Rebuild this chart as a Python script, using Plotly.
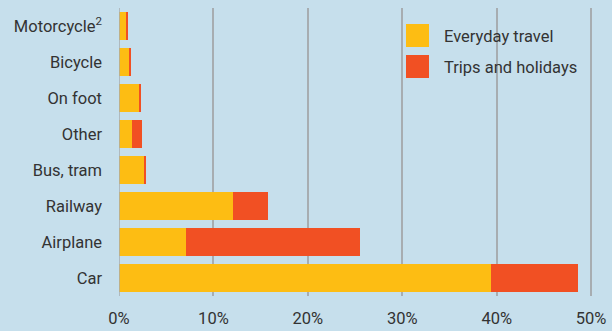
import plotly.graph_objects as go

# Share of travel distance by mode, split into everyday travel and trips/holidays (%)
modes = ["Motorcycle<sup>2</sup>", "Bicycle", "On foot", "Other", "Bus, tram",
         "Railway", "Airplane", "Car"]
everyday = [0.75, 1.15, 2.2, 1.4, 2.65, 12.05, 7.1, 39.4]
trips = [0.2, 0.1, 0.1, 1.05, 0.2, 3.75, 18.4, 9.2]
x_ticks = [0, 10, 20, 30, 40, 50]
x_tick_labels = ["0%", "10%", "20%", "30%", "40%", "50%"]
series_names = ["Everyday travel", "Trips and holidays"]
series_colors = ["#fdbd13", "#f15023"]

BG = "#c6dfec"
FONT = "Roboto"
FS = 16.5
TEXT = "#333333"

W, H = 612, 331
L, R, T, B = 119, 2, 8, 35

fig = go.Figure()
for name, vals, col in zip(series_names, [everyday, trips], series_colors):
    fig.add_trace(go.Bar(
        y=modes, x=vals, orientation="h", name=name,
        marker=dict(color=col, line=dict(width=0)),
        showlegend=False,
    ))

# Custom legend with large square swatches
pw, ph = W - L - R, H - T - B
def px(x):
    return (x - L) / pw
def py(y):
    return 1 - (y - T) / ph

for i, (name, col) in enumerate(zip(series_names, series_colors)):
    top = 24 + i * 31
    fig.add_shape(type="rect", xref="paper", yref="paper",
                  x0=px(406), x1=px(429), y0=py(top + 23), y1=py(top),
                  fillcolor=col, line=dict(width=0), layer="above")
    fig.add_annotation(xref="paper", yref="paper", x=px(442), y=py(top + 12),
                       text=name, showarrow=False, xanchor="left", yanchor="middle",
                       font=dict(family=FONT, size=FS, color=TEXT))

fig.update_layout(
    width=W, height=H,
    margin=dict(l=L, r=R, t=T, b=B, pad=0),
    paper_bgcolor=BG, plot_bgcolor=BG,
    barmode="stack", bargap=0.222,
    font=dict(family=FONT, size=FS, color=TEXT),
    xaxis=dict(range=[0, 52], tickvals=x_ticks, ticktext=x_tick_labels,
               showgrid=True, gridcolor="#a7adb1", gridwidth=1.5,
               zeroline=False, showline=False, ticks="", ticklabelstandoff=10,
               automargin=False,
               tickfont=dict(family=FONT, size=FS, color=TEXT)),
    yaxis=dict(autorange="reversed", showgrid=False, zeroline=False,
               showline=False, ticks="", ticklabelstandoff=16,
               automargin=False,
               tickfont=dict(family=FONT, size=FS, color=TEXT)),
)
# vertical axis line at 0
fig.add_shape(type="line", xref="x", yref="paper", x0=0, x1=0, y0=0, y1=1,
              line=dict(color="#a7adb1", width=1.5), layer="above")

fig.write_html("out.html")
